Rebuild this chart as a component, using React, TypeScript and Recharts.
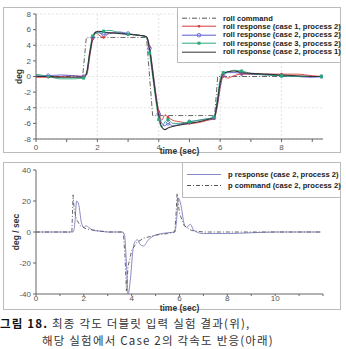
import React from 'react';
import { LineChart, Line, XAxis, YAxis, CartesianGrid } from 'recharts';

// ---------- Top chart data (roll angle, deg) ----------
const rollTime = [0, 0.4, 0.8, 1.2, 1.55, 1.65, 1.75, 1.85, 1.95, 2.05, 2.2, 2.4, 2.7, 3.0, 3.3, 3.6, 3.7, 3.8, 3.9, 4.0, 4.1, 4.2, 4.3, 4.45, 4.7, 5.0, 5.3, 5.6, 5.8, 5.9, 6.0, 6.1, 6.25, 6.45, 6.7, 7.0, 7.5, 8.0, 8.5, 9.0, 9.3];
const case1Proc2 = [-0.1, -0.1, 0, 0.1, 0, 0.2, 2.5, 4.8, 5.6, 5.3, 5.0, 5.6, 5.6, 5.4, 5.3, 5.1, 3.8, 1.0, -2.0, -4.5, -5.6, -4.9, -5.2, -5.6, -5.8, -6.0, -5.9, -5.6, -5.4, -4.0, -1.5, 0.0, -0.2, 0.1, 0.3, 0.3, 0.3, 0.3, 0.3, 0.1, 0.0];
const case2Proc2 = [0.1, 0.1, 0.2, 0.1, 0, 0.3, 2.8, 5.0, 5.7, 5.6, 5.4, 5.5, 5.7, 5.5, 5.3, 5.1, 3.6, 0.8, -2.3, -4.8, -6.0, -6.3, -6.0, -6.3, -6.1, -5.8, -5.6, -5.4, -5.3, -3.8, -1.2, 0.2, 0.5, 0.5, 0.4, 0.3, 0.2, 0.1, 0.0, -0.1, 0.0];
const case3Proc2 = [0.3, 0.0, -0.3, -0.3, -0.2, 0.5, 3.2, 5.2, 5.5, 5.6, 5.8, 5.9, 5.6, 5.4, 5.3, 5.0, 3.0, 0.0, -3.0, -5.5, -6.5, -5.8, -5.5, -6.0, -6.0, -5.8, -5.6, -5.4, -5.2, -3.0, -0.3, 0.5, 0.6, 0.8, 0.7, 0.4, 0.2, 0.1, 0.0, 0.0, 0.0];
const case2Proc1 = [0, 0, -0.1, -0.1, -0.1, 0.5, 3.0, 5.0, 5.7, 5.8, 5.7, 5.6, 5.5, 5.4, 5.3, 5.1, 3.5, 0.5, -2.5, -5.0, -6.5, -6.8, -6.6, -6.4, -6.2, -6.0, -5.8, -5.5, -5.3, -3.5, -0.8, 0.3, 0.6, 0.7, 0.5, 0.4, 0.3, 0.2, 0.1, 0.0, 0.0];
const rollCmdTime = [0, 1.52, 1.64, 3.6, 3.8, 5.82, 5.92, 9.3];
const rollCmdValue = [0, 0, 5, 5, -5, -5, 0, 0];
const topXTicks = [0, 2, 4, 6, 8];
const topXMinorTicks = [0, 0.5, 1, 1.5, 2, 2.5, 3, 3.5, 4, 4.5, 5, 5.5, 6, 6.5, 7, 7.5, 8, 8.5, 9];
const topYTicks = [-8, -6, -4, -2, 0, 2, 4, 6, 8];

// ---------- Bottom chart data (roll rate, deg/sec) ----------
const pCmdTime = [0, 1.5, 1.55, 1.6, 1.7, 1.85, 2.1, 2.5, 3.0, 3.65, 3.72, 3.78, 3.85, 4.0, 4.2, 4.5, 5.0, 5.5, 5.8, 5.85, 5.9, 6.0, 6.2, 6.5, 7.0, 8.0, 10, 11.9];
const pCmdValue = [0, 0, 24, 14, 8, 4, 2, 1, 0, 0, -15, -38, -22, -12, -7, -4, -2, -1, 0, 10, 25, 12, 4, 1, 0, 0, 0, 0];
const pRespTime = [0, 1.55, 1.62, 1.7, 1.78, 1.9, 2.0, 2.1, 2.2, 2.4, 2.7, 3.0, 3.6, 3.7, 3.78, 3.85, 3.95, 4.05, 4.15, 4.25, 4.35, 4.5, 4.7, 5.0, 5.5, 5.8, 5.88, 5.95, 6.05, 6.2, 6.3, 6.45, 6.6, 7.0, 8, 9, 10, 11, 11.9];
const pRespValue = [0, 0, 5, 20, 18, 6, 3, 4, 3, 1, 0.5, 0, 0, -2, -20, -40, -30, -12, -6, -5, -8, -9, -5, -2, -0.5, 0, 8, 22, 18, 5, 3, 5, 1, -1, -1, -0.5, 0, 0, 0];
const botXTicks = [0, 2, 4, 6, 8, 10];
const botXMinorTicks = [0, 0.5, 1, 1.5, 2, 2.5, 3, 3.5, 4, 4.5, 5, 5.5, 6, 6.5, 7, 7.5, 8, 8.5, 9, 9.5, 10, 10.5, 11, 11.5, 12];
const botYTicks = [-40, -20, 0, 20, 40];

const topLegend = [
  { label: 'roll command', color: '#555', dash: '5 2 1 2', marker: '' },
  { label: 'roll response (case 1, process 2)', color: '#d83a3a', dash: '', marker: 'dot' },
  { label: 'roll response (case 2, process 2)', color: '#5a5ad0', dash: '', marker: 'circle' },
  { label: 'roll response (case 3, process 2)', color: '#2aa878', dash: '', marker: 'square' },
  { label: 'roll response (case 2, process 1)', color: '#333', dash: '', marker: '' },
];
const botLegend = [
  { label: 'p response (case 2, process 2)', color: '#8a8ac8', dash: '', marker: '' },
  { label: 'p command (case 2, process 2)', color: '#555', dash: '4 2 1 2', marker: '' },
];

const FONT = '"Liberation Sans", Arial, sans-serif';

const zip = (ts: number[], vs: number[]) => ts.map((t, i) => ({ t, v: vs[i] }));

const makeDot = (color: string, kind: string) => (props: any) => {
  const { cx, cy, index } = props;
  if (index % 3 !== 1 || cx == null || cy == null) return <g key={index} />;
  if (kind === 'square')
    return <rect key={index} x={cx - 1.5} y={cy - 1.5} width={3} height={3} fill={color} />;
  if (kind === 'circle')
    return <circle key={index} cx={cx} cy={cy} r={1.8} fill="none" stroke={color} strokeWidth={0.8} />;
  return <circle key={index} cx={cx} cy={cy} r={1.3} fill={color} />;
};

const makeXTick = (majors: number[], shift: number) => (props: any) => {
  const { x, y, payload } = props;
  if (!majors.includes(payload.value)) return <g />;
  return (
    <text x={x} y={y + shift} dy="0.71em" textAnchor="middle" fontSize={8} fill="#555" fontFamily={FONT}>
      {payload.value}
    </text>
  );
};

const LegendBox = ({ items, style, rowH }: { items: typeof topLegend; style: React.CSSProperties; rowH: number }) => (
  <div style={{ position: 'absolute', background: '#fff', borderLeft: '1px solid #bbb', borderBottom: '1px solid #bbb', boxSizing: 'border-box', ...style }}>
    {items.map((it, i) => (
      <div key={i} style={{ display: 'flex', alignItems: 'center', height: rowH, fontFamily: FONT, fontWeight: 'bold', fontSize: 7.6, color: '#222', whiteSpace: 'nowrap' }}>
        <svg width={40} height={rowH} style={{ flex: 'none' }}>
          <line x1={4} x2={38} y1={rowH / 2} y2={rowH / 2} stroke={it.color} strokeWidth={1} strokeDasharray={it.dash || undefined} />
          {it.marker === 'dot' && <circle cx={21} cy={rowH / 2} r={1.3} fill={it.color} />}
          {it.marker === 'circle' && <circle cx={21} cy={rowH / 2} r={1.8} fill="none" stroke={it.color} strokeWidth={0.8} />}
          {it.marker === 'square' && <rect x={19.5} y={rowH / 2 - 1.5} width={3} height={3} fill={it.color} />}
        </svg>
        <span style={{ marginLeft: 5 }}>{it.label}</span>
      </div>
    ))}
  </div>
);

const captionStyle: React.CSSProperties = {
  position: 'absolute', fontFamily: '"Noto Sans CJK KR", sans-serif', fontSize: 11.5, lineHeight: '17px',
  height: 17, letterSpacing: '1.2px', color: '#333', whiteSpace: 'nowrap',
};

export default function App() {
  const rollCmd = zip(rollCmdTime, rollCmdValue);
  const c1 = zip(rollTime, case1Proc2);
  const c2 = zip(rollTime, case2Proc2);
  const c3 = zip(rollTime, case3Proc2);
  const c21 = zip(rollTime, case2Proc1);
  const pCmd = zip(pCmdTime, pCmdValue);
  const pResp = zip(pRespTime, pRespValue);
  const tickStyle = { fontSize: 8, fill: '#555', fontFamily: FONT };
  const labelStyle = { fontSize: 8.5, fill: '#333', fontFamily: FONT, fontWeight: 'bold' as const };

  return (
    <div style={{ position: 'absolute', left: 0, top: 0, width: 346, height: 349, background: '#fff', overflow: 'hidden' }}>
      {/* frames */}
      <div style={{ position: 'absolute', left: 3, top: 7, width: 338, height: 146, border: '1px solid #bbb', boxSizing: 'border-box' }} />
      <div style={{ position: 'absolute', left: 3, top: 162, width: 338, height: 148, border: '1px solid #bbb', boxSizing: 'border-box' }} />

      <div style={{ position: 'absolute', left: 0, top: 0 }}>
        <LineChart width={346} height={160} margin={{ top: 14, right: 23, left: 0, bottom: 0 }}>
          <CartesianGrid stroke="#e4e4e4" strokeDasharray="2 2" verticalValues={topXTicks} horizontalValues={topYTicks} />
          <XAxis type="number" dataKey="t" domain={[0, 9.35]} ticks={topXMinorTicks} allowDataOverflow height={21}
            tick={makeXTick(topXTicks, 0)} tickSize={3} stroke="#666"
            label={{ value: 'time (sec)', position: 'insideBottom', offset: 6, style: labelStyle }} />
          <YAxis type="number" dataKey="v" domain={[-8, 8]} ticks={topYTicks} allowDataOverflow width={36}
            tick={tickStyle} tickSize={3} stroke="#666"
            label={{ value: 'deg', angle: -90, position: 'center', dx: 1, style: labelStyle }} />
          <Line data={rollCmd} dataKey="v" stroke="#555" strokeWidth={0.9} strokeDasharray="5 2 1 2" dot={false} isAnimationActive={false} type="linear" />
          <Line data={c1} dataKey="v" stroke="#d83a3a" strokeWidth={0.9} dot={makeDot('#d83a3a', 'dot')} isAnimationActive={false} type="monotone" />
          <Line data={c2} dataKey="v" stroke="#5a5ad0" strokeWidth={0.9} dot={makeDot('#5a5ad0', 'circle')} isAnimationActive={false} type="monotone" />
          <Line data={c3} dataKey="v" stroke="#2aa878" strokeWidth={0.9} dot={makeDot('#2aa878', 'square')} isAnimationActive={false} type="monotone" />
          <Line data={c21} dataKey="v" stroke="#333" strokeWidth={1.1} dot={false} isAnimationActive={false} type="monotone" />
        </LineChart>
      </div>
      <LegendBox items={topLegend} rowH={8.4} style={{ left: 177, top: 8, width: 163, height: 55, paddingTop: 6 }} />

      <div style={{ position: 'absolute', left: 0, top: 160 }}>
        <LineChart width={346} height={156} margin={{ top: 10, right: 23, left: 0, bottom: 6 }}>
          <XAxis type="number" dataKey="t" domain={[0, 12]} ticks={botXMinorTicks} allowDataOverflow height={16}
            tick={makeXTick(botXTicks, -2)} tickSize={2} tickMargin={1} stroke="#666"
            label={{ value: 'time (sec)', position: 'insideBottom', offset: -0.5, style: labelStyle }} />
          <YAxis type="number" dataKey="v" domain={[-40, 40]} ticks={botYTicks} allowDataOverflow width={36}
            tick={tickStyle} tickSize={3} stroke="#666"
            label={{ value: 'deg / sec', angle: -90, position: 'center', dx: -2, style: labelStyle }} />
          <Line data={pResp} dataKey="v" stroke="#8a8ac8" strokeWidth={1} dot={false} isAnimationActive={false} type="monotone" />
          <Line data={pCmd} dataKey="v" stroke="#555" strokeWidth={0.9} strokeDasharray="4 2 1 2" dot={false} isAnimationActive={false} type="linear" />
        </LineChart>
      </div>
      <LegendBox items={botLegend} rowH={11} style={{ left: 182, top: 163, width: 158, height: 35, paddingTop: 6 }} />

      <div style={{ ...captionStyle, left: 0, top: 315 }}>
        <span style={{ fontWeight: 'bold', color: '#111' }}>그림 18.</span> 최종 각도 더블릿 입력 실험 결과(위),
      </div>
      <div style={{ ...captionStyle, left: 42, top: 332 }}>해당 실험에서 Case 2의 각속도 반응(아래)</div>
    </div>
  );
}
